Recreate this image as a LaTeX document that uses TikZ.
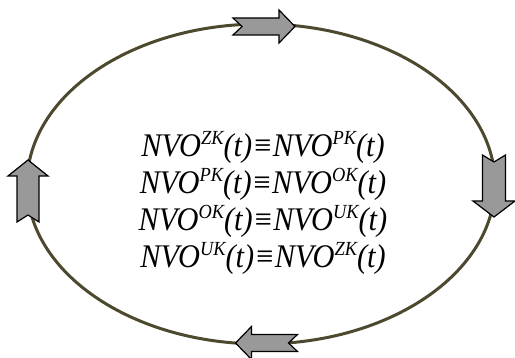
\documentclass[tikz,border=0pt]{standalone}
\usepackage{fontspec}
\setmainfont{Liberation Serif}
\newcommand{\spx}[1]{\raisebox{12.5pt}{\fontsize{20}{20}\selectfont #1}}
\newcommand{\fline}[1]{\scalebox{0.92}[1]{#1}}
\tikzset{
  ring/.style={draw=olive!40!black, line width=3pt},
  blockarrow/.style={draw=black, fill=black!40, line width=1.2pt, line join=miter},
  formula/.style={font=\fontsize{33}{36}\selectfont\itshape, anchor=base, inner sep=0pt},
  pics/notcharrow/.style n args={4}{code={
    % #1 body half width, #2 head half width, #3 head length, #4 notch depth
    \draw[blockarrow] (-31,-#1) -- (31-#3,-#1) -- (31-#3,-#2) -- (31,0)
      -- (31-#3,#2) -- (31-#3,#1) -- (-31,#1) -- (-31+#4,0) -- cycle;
  }}
}
\begin{document}
\begin{tikzpicture}[x=1pt,y=-1pt]
\useasboundingbox (0,0) rectangle (515,358);
\draw[ring] (261,184) ellipse [x radius=234, y radius=160];
\pic[rotate=0] at (264,26.5) {notcharrow={8.5}{16.5}{16}{9}};
\pic[rotate=180] at (266.5,343) {notcharrow={8.5}{16.5}{16}{9}};
\pic[rotate=90] at (28,191) {notcharrow={11}{20}{16}{7}};
\pic[rotate=-90] at (494,186) {notcharrow={11.5}{21}{16}{7}};
\node[formula] (l1) at (263,157) {\fline{NVO\spx{ZK}(t)≡NVO\spx{PK}(t)}};
\node[formula] (l2) at (263,194) {\fline{NVO\spx{PK}(t)≡NVO\spx{OK}(t)}};
\node[formula] (l3) at (263,231) {\fline{NVO\spx{OK}(t)≡NVO\spx{UK}(t)}};
\node[formula] (l4) at (263,268) {\fline{NVO\spx{UK}(t)≡NVO\spx{ZK}(t)}};
\end{tikzpicture}
\end{document}
